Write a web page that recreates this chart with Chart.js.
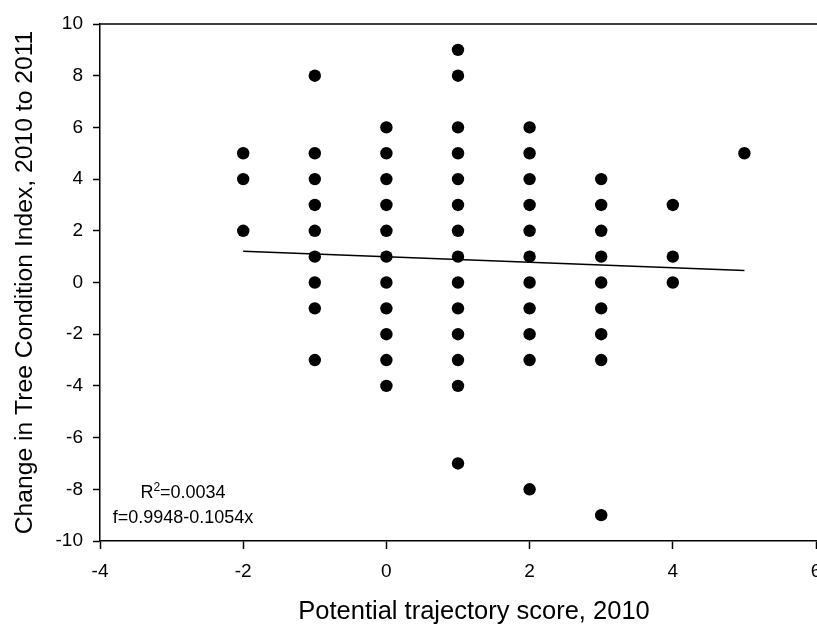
<!DOCTYPE html>
<html lang="en">
  <head>
    <meta charset="UTF-8" />
    <title>Tree Condition Index vs Potential trajectory score</title>
    <script src="https://cdn.jsdelivr.net/npm/chart.js@4.4.0/dist/chart.umd.min.js"></script>
    <style>
      html, body { margin: 0; padding: 0; background: #fff; }
      #wrap { width: 817px; height: 625px; }
    </style>
  </head>
  <body>
    <div id="wrap">
      <canvas id="treeChart" width="817" height="625"></canvas>
    </div>

    <script>
      // observations: potential trajectory score (x) vs change in TCI (y)
      const trajectoryScore = [
        -2, -2, -2,
        -1, -1, -1, -1, -1, -1, -1, -1, -1,
        0, 0, 0, 0, 0, 0, 0, 0, 0, 0, 0,
        1, 1, 1, 1, 1, 1, 1, 1, 1, 1, 1, 1, 1, 1,
        2, 2, 2, 2, 2, 2, 2, 2, 2, 2, 2,
        3, 3, 3, 3, 3, 3, 3, 3, 3,
        4, 4, 4,
        5
      ];
      const conditionChange = [
        5, 4, 2,
        8, 5, 4, 3, 2, 1, 0, -1, -3,
        6, 5, 4, 3, 2, 1, 0, -1, -2, -3, -4,
        9, 8, 6, 5, 4, 3, 2, 1, 0, -1, -2, -3, -4, -7,
        6, 5, 4, 3, 2, 1, 0, -1, -2, -3, -8,
        4, 3, 2, 1, 0, -1, -2, -3, -9,
        3, 1, 0,
        5
      ];

      // regression line end points (f=0.9948-0.1054x)
      const fitX = [-2, 5];
      const fitY = [1.2056, 0.4678];

      const xTicks = [-4, -2, 0, 2, 4, 6];
      const yTicks = [-10, -8, -6, -4, -2, 0, 2, 4, 6, 8, 10];

      const xTitle = "Potential trajectory score, 2010";
      const yTitle = "Change in Tree Condition Index, 2010 to 2011";
      const r2Text = "0.0034";
      const fitText = "f=0.9948-0.1054x";

      const FONT = "'Liberation Sans', Arial, sans-serif";

      const points = trajectoryScore.map((x, i) => ({ x: x, y: conditionChange[i] }));
      const fitLine = fitX.map((x, i) => ({ x: x, y: fitY[i] }));

      // top frame line, x title + regression text
      const extrasPlugin = {
        id: "extras",
        afterDraw(chart) {
          const ctx = chart.ctx;
          const a = chart.chartArea;
          ctx.save();
          ctx.strokeStyle = "#000";
          ctx.lineWidth = 1.5;
          ctx.beginPath();
          ctx.moveTo(a.left, a.top);
          ctx.lineTo(a.right + 2, a.top);
          ctx.stroke();

          ctx.fillStyle = "#000";

          // x axis title (sits a bit right of centre in the original)
          ctx.font = "25.5px " + FONT;
          ctx.textAlign = "center";
          ctx.textBaseline = "middle";
          ctx.fillText(xTitle, a.left + 374, a.bottom + 71);

          ctx.textAlign = "left";
          ctx.textBaseline = "alphabetic";
          ctx.font = "18px " + FONT;
          // R^2 line, centred over the equation
          const cx = a.left + 83;
          const wR = ctx.measureText("R").width;
          const wRest = ctx.measureText("=" + r2Text).width;
          ctx.font = "12px " + FONT;
          const wSup = ctx.measureText("2").width;
          let x0 = cx - (wR + wSup + wRest) / 2;
          const y1 = a.bottom - 43;
          ctx.font = "18px " + FONT;
          ctx.fillText("R", x0, y1);
          ctx.font = "12px " + FONT;
          ctx.fillText("2", x0 + wR, y1 - 7);
          ctx.font = "18px " + FONT;
          ctx.fillText("=" + r2Text, x0 + wR + wSup, y1);

          ctx.textAlign = "center";
          ctx.fillText(fitText, cx, a.bottom - 18);
          ctx.restore();
        }
      };

      new Chart(document.getElementById("treeChart"), {
        type: "scatter",
        data: {
          datasets: [
            {
              label: "observations",
              data: points,
              backgroundColor: "#000",
              borderColor: "#000",
              pointRadius: 6.2,
              pointHoverRadius: 6.2,
              borderWidth: 0
            },
            {
              type: "line",
              label: "fit",
              data: fitLine,
              borderColor: "#000",
              borderWidth: 1.5,
              pointRadius: 0,
              fill: false
            }
          ]
        },
        options: {
          responsive: false,
          animation: false,
          layout: { autoPadding: false, padding: { top: 24, right: 1, left: 0, bottom: 0 } },
          plugins: {
            legend: { display: false },
            tooltip: { enabled: false }
          },
          scales: {
            x: {
              type: "linear",
              min: -4,
              max: 6,
              afterBuildTicks: (s) => { s.ticks = xTicks.map(v => ({ value: v })); },
              afterFit: (s) => { s.height = 84; s.paddingLeft = 0; s.paddingRight = 0; },
              ticks: { color: "#000", font: { size: 19, family: FONT }, padding: 11, maxRotation: 0 },
              grid: { drawOnChartArea: false, drawTicks: true, tickLength: 8, tickWidth: 1.5, tickColor: "#000" },
              border: { display: true, color: "#000", width: 1.5 },
              title: { display: false }
            },
            y: {
              type: "linear",
              min: -10,
              max: 10,
              afterBuildTicks: (s) => { s.ticks = yTicks.map(v => ({ value: v })); },
              afterFit: (s) => { s.width = 100; s.paddingTop = 0; s.paddingBottom = 0; },
              ticks: { color: "#000", font: { size: 19, family: FONT }, padding: 10 },
              grid: { drawOnChartArea: false, drawTicks: true, tickLength: 7, tickWidth: 1.5, tickColor: "#000" },
              border: { display: true, color: "#000", width: 1.5 },
              title: {
                display: true,
                text: yTitle,
                color: "#000",
                font: { size: 24.7, family: FONT },
                padding: { top: 10, bottom: 0 }
              }
            }
          }
        },
        plugins: [extrasPlugin]
      });
    </script>
  </body>
</html>
